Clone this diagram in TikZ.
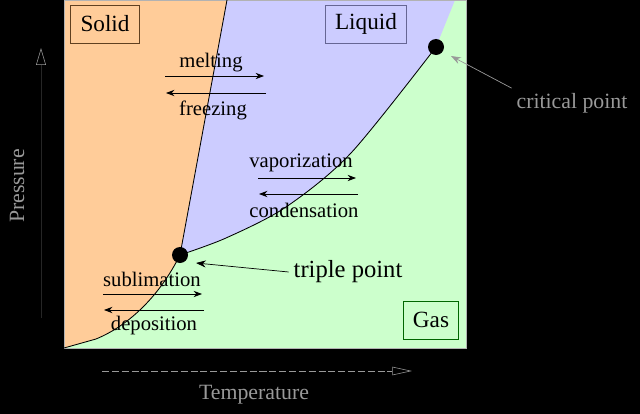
\documentclass[tikz,border=0pt]{standalone}
\usepackage{fontspec}
\setmainfont{Liberation Serif}
\usetikzlibrary{arrows.meta}
\definecolor{solidcol}{HTML}{FFCC99}
\definecolor{liquidcol}{HTML}{CCCCFF}
\definecolor{gascol}{HTML}{CCFFCC}
\tikzset{
  phase/.style={draw,line width=0.6pt,inner xsep=7pt,minimum height=0.95cm,
    font=\fontsize{16.5}{18}\selectfont},
  change/.style={font=\fontsize{14.7}{16}\selectfont},
  outside/.style={text=gray!80,font=\fontsize{15.5}{17}\selectfont},
  flow/.style={-{Stealth[length=6pt,width=4.5pt]},line width=0.6pt},
  pointer/.style={-{Stealth[length=7pt,width=5pt]},line width=0.5pt},
}
\begin{document}
\begin{tikzpicture}[x=0.025cm,y=-0.025cm]
         \fill[black] (0,0) rectangle (640,414) ;
         \useasboundingbox (0,0) rectangle (640,414) ;
         % gas first, then solid and liquid on top
         \fill[gascol] (64,0) rectangle (466,348) ;
         \fill[solidcol] (64,0) -- (227,0) -- (180,255)
            .. controls (160,295) and (130,325) .. (96,339) -- (64,348) -- cycle ;
         \fill[liquidcol] (227,0) -- (455,0) -- (436,47)
            -- plot[smooth] coordinates {(436,47) (351,153) (286,207) (226,238) (180,255)} -- cycle ;
         \draw[gray!60,line width=0.6pt] (64,0) rectangle (466,348) ;
         % phase boundaries
         \draw[line width=0.6pt] (227,0) -- (180,255) ;
         \draw[line width=0.6pt] (64,348) -- (96,339) .. controls (130,325) and (160,295) .. (180,255) ;
         \draw[line width=0.6pt] plot[smooth] coordinates {(180,255) (226,238) (286,207) (351,153) (436,47)} ;
         \fill (180,255) circle (0.2cm) coordinate (tp) ;
         \fill (436,47) circle (0.2cm) coordinate (cp) ;
         % phase names
         \node[phase,draw=black!50!brown] (solid) at (105,24) {Solid} ;
         \node[phase,draw=black!70!blue!60] (liquid) at (366,24) {Liquid} ;
         \node[phase,draw=black!60!green] (gas) at (431,320) {Gas} ;
         % changes of phase
         \node[change] (melt) at (211,63) {melting} ;
         \node[change] (freeze) at (213,110) {freezing} ;
         \draw[flow] (165,76) -- (264,76) ;
         \draw[flow] (266,93) -- (166,93) ;
         \node[change] (vapor) at (301,163) {vaporization} ;
         \node[change] (cond) at (304,210) {condensation} ;
         \draw[flow] (258,178) -- (356,178) ;
         \draw[flow] (358,194) -- (259,194) ;
         \node[change] (subl) at (152,279) {sublimation} ;
         \node[change] (depo) at (154,326) {deposition} ;
         \draw[flow] (103,294) -- (202,294) ;
         \draw[flow] (204,310) -- (104,310) ;
         % the two points
         \node[font=\fontsize{17.5}{19}\selectfont] (tplabel) at (348,272) {triple point} ;
         \coordinate (tptip) at (196,263) ;
         \draw[pointer] (tplabel.west) -- (tptip) ;
         \node[outside] (cplabel) at (572,103) {critical point} ;
         \coordinate (cptip) at (451,56) ;
         \draw[pointer,gray!80] (cplabel.north west) -- (cptip) ;
         % axes
         \coordinate (pbot) at (41,318) ;
         \coordinate (ptop) at (41,48) ;
         \draw[gray!30!black,-{Triangle[open,color=gray!80,length=12pt,width=7pt]}] (pbot) -- (ptop) ;
         \node[outside,rotate=90] (press) at (17,186) {Pressure} ;
         \coordinate (tleft) at (102,371) ;
         \coordinate (tright) at (412,371) ;
         \draw[gray!80,dash pattern=on 5pt off 2pt,-{Triangle[open,length=14pt,width=6pt]}] (tleft) -- (tright) ;
         \node[outside] (temp) at (254,395) {Temperature} ;
      \end{tikzpicture}
\end{document}
